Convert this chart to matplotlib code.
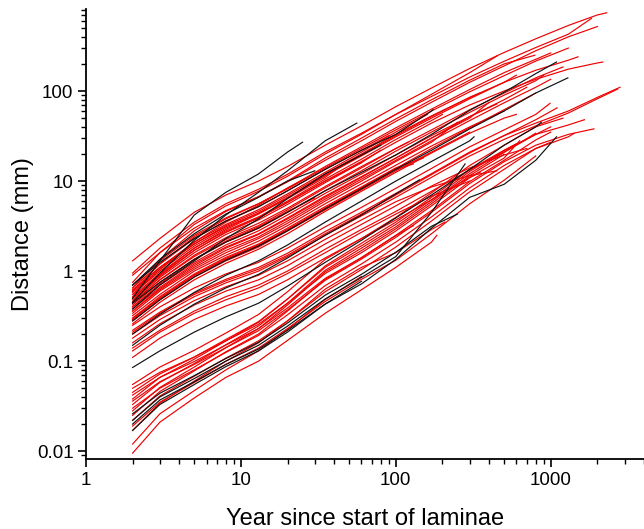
import matplotlib
matplotlib.use("Agg")
import matplotlib.pyplot as plt
from matplotlib.ticker import LogLocator, NullFormatter, FixedLocator, FixedFormatter

plt.rcParams['font.family'] = ['Liberation Sans', 'DejaVu Sans']

# common year grid; each series uses the grid points below its end year, then its end year
years_grid = [2, 3, 5, 8, 13, 20, 35, 60, 100, 170, 300, 500, 800, 1300, 2000]

red_end = [2300, 1830, 450, 790, 1000, 1500, 2170, 2000, 1300, 1200, 600, 900, 700, 400,
           1000, 250, 500, 150, 300, 27, 45, 80, 120, 160, 200, 350, 600, 60, 30, 90,
           800, 450, 130,
           990, 2800, 2700, 450, 700, 1000, 300, 630, 1100,
           184, 60, 207, 800, 1000, 1000, 500, 1420, 800, 1900, 600, 130, 1650, 350, 1200]
red_dist = [
    # upper group
    [1.3, 2.3, 4.5, 7.0, 10, 14.5, 25, 41, 67, 108, 178, 268, 380, 535, 700, 740],
    [0.95, 1.8, 3.5, 5.6, 8.1, 11.9, 21, 34, 55, 87, 143, 214, 304, 428, 640],
    [0.75, 1.6, 3.3, 5.3, 7.7, 11.3, 20, 33, 55, 92, 160, 245],
    [0.65, 1.35, 2.8, 4.6, 6.7, 10, 18, 30, 49, 80, 132, 200, 250],
    [0.6, 1.2, 2.4, 3.8, 5.6, 8.3, 14.5, 24, 39, 63, 104, 160, 225, 265],
    [0.55, 1.0, 1.9, 3.0, 4.4, 6.6, 11.5, 19.5, 32, 52, 85, 125, 170, 220, 240],
    [0.5, 0.9, 1.7, 2.7, 3.9, 5.8, 10, 16.5, 27, 44, 70, 100, 135, 175, 205, 210],
    [0.9, 1.6, 3.0, 4.7, 6.7, 9.8, 17, 28, 46, 75, 125, 190, 280, 400, 520],
    [0.7, 1.3, 2.5, 3.9, 5.6, 8.2, 14, 23, 37, 60, 98, 148, 215, 300],
    [0.45, 0.8, 1.45, 2.25, 3.2, 4.8, 8.4, 14, 23, 37, 62, 95, 140, 185],
    [0.62, 1.1, 2.0, 3.1, 4.4, 6.5, 11.5, 19, 31, 50, 82, 125, 150],
    [0.42, 0.75, 1.35, 2.1, 3.0, 4.5, 7.8, 13, 21.5, 35, 58, 90, 130, 150],
    [0.4, 0.7, 1.25, 1.95, 2.8, 4.2, 7.3, 12, 19.5, 32, 52, 80, 110],
    [0.38, 0.66, 1.2, 1.85, 2.6, 3.9, 6.8, 11.2, 18, 30, 50, 75],
    [0.36, 0.62, 1.1, 1.7, 2.4, 3.6, 6.3, 10.5, 17, 28, 47, 74, 110, 135],
    [0.34, 0.6, 1.05, 1.6, 2.3, 3.4, 6, 10, 16.5, 27, 45],
    [0.32, 0.55, 1.0, 1.5, 2.15, 3.2, 5.6, 9.3, 15, 24.5, 40, 60],
    [0.3, 0.52, 0.93, 1.42, 2.0, 3.0, 5.2, 8.6, 14, 18],
    [0.28, 0.48, 0.86, 1.3, 1.85, 2.8, 4.8, 8, 13, 21, 35],
    [0.55, 1.05, 2.1, 3.5, 5.4, 8.4, 11],
    [0.5, 0.92, 1.8, 2.9, 4.3, 6.4, 11, 15],
    [0.46, 0.85, 1.6, 2.55, 3.7, 5.5, 9.6, 16, 22],
    [0.44, 0.8, 1.5, 2.35, 3.4, 5.0, 8.7, 14.5, 23, 27],
    [0.6, 1.1, 2.1, 3.3, 4.8, 7.2, 12.5, 21, 35, 55],
    [0.52, 0.95, 1.8, 2.8, 4.0, 6.0, 10.5, 17.5, 29, 47, 55],
    [0.58, 1.05, 2.0, 3.2, 4.6, 6.9, 12, 20, 33, 53, 85, 95],
    [0.26, 0.45, 0.8, 1.22, 1.75, 2.6, 4.6, 7.7, 12.5, 20.5, 34, 50, 55],
    [0.48, 0.88, 1.7, 2.7, 3.9, 5.8, 10, 16],
    [0.4, 0.72, 1.35, 2.15, 3.1, 4.6, 6.5],
    [0.65, 1.2, 2.3, 3.6, 5.2, 7.8, 13.5, 22, 32],
    [0.3, 0.5, 0.9, 1.35, 1.9, 2.85, 5.0, 8.4, 13.8, 23, 39, 62, 95],
    [0.36, 0.64, 1.15, 1.8, 2.55, 3.8, 6.6, 11, 18, 30, 52, 72],
    [0.29, 0.5, 0.9, 1.38, 1.95, 2.9, 5, 8.3, 13.5, 15.5],
    # middle group
    [0.25, 0.4, 0.65, 0.93, 1.25, 1.8, 3.1, 5.1, 8.3, 13.8, 24, 37, 55, 73],
    [0.22, 0.35, 0.57, 0.81, 1.1, 1.58, 2.75, 4.5, 7.3, 12.1, 21, 32, 44, 60, 85, 110],
    [0.2, 0.32, 0.52, 0.74, 1.0, 1.45, 2.5, 4.1, 6.6, 11, 19, 29, 41, 57, 82, 105],
    [0.18, 0.29, 0.47, 0.67, 0.9, 1.3, 2.25, 3.7, 5.9, 8.6, 11.5, 13],
    [0.16, 0.26, 0.42, 0.6, 0.8, 1.15, 2.0, 3.3, 5.3, 8.8, 14, 19.5, 23],
    [0.14, 0.22, 0.36, 0.52, 0.7, 1.0, 1.75, 2.9, 4.6, 7.7, 13.3, 21, 33, 40],
    [0.13, 0.21, 0.34, 0.48, 0.65, 0.94, 1.6, 2.7, 4.3, 6.8, 10],
    [0.11, 0.18, 0.29, 0.41, 0.55, 0.8, 1.4, 2.3, 3.7, 6.2, 11, 18, 28],
    [0.21, 0.34, 0.55, 0.78, 1.05, 1.5, 2.6, 4.3, 7, 11.8, 20.5, 32, 48, 65],
    # lower group
    [0.0095, 0.021, 0.039, 0.066, 0.1, 0.17, 0.34, 0.62, 1.1, 2.1, 2.5],
    [0.012, 0.026, 0.047, 0.08, 0.13, 0.225, 0.485, 0.87],
    [0.017, 0.034, 0.06, 0.1, 0.16, 0.28, 0.63, 1.1, 1.6, 2.9, 3.5],
    [0.019, 0.035, 0.058, 0.092, 0.14, 0.23, 0.46, 0.81, 1.32, 2.6, 5.6, 10.2, 19],
    [0.022, 0.041, 0.068, 0.108, 0.168, 0.28, 0.59, 1.04, 1.85, 3.6, 7.6, 13.5, 23, 27],
    [0.025, 0.046, 0.078, 0.127, 0.2, 0.36, 0.81, 1.41, 2.5, 4.7, 9.9, 17, 28.6, 35],
    [0.028, 0.051, 0.086, 0.141, 0.23, 0.42, 0.98, 1.69, 2.95, 5.6, 11.5, 19.8],
    [0.03, 0.05, 0.08, 0.125, 0.193, 0.327, 0.69, 1.2, 2.1, 4.0, 8.4, 14.9, 23, 31, 34],
    [0.033, 0.058, 0.094, 0.152, 0.246, 0.44, 1.02, 1.8, 3.1, 5.9, 12.1, 20.8, 34],
    [0.036, 0.059, 0.092, 0.141, 0.218, 0.37, 0.79, 1.36, 2.37, 4.5, 9.4, 16.4, 25, 33, 38],
    [0.038, 0.066, 0.105, 0.168, 0.27, 0.49, 1.14, 2.04, 3.5, 6.6, 13.4, 22, 26],
    [0.042, 0.066, 0.099, 0.151, 0.23, 0.39, 0.83, 1.41, 2.48, 3.2],
    [0.045, 0.072, 0.111, 0.174, 0.275, 0.49, 1.1, 1.91, 3.3, 6.2, 12.8, 21.8, 33, 42, 48],
    [0.05, 0.075, 0.111, 0.168, 0.257, 0.44, 0.94, 1.6, 2.79, 5.3, 10.9, 12.5],
    [0.055, 0.086, 0.132, 0.205, 0.33, 0.59, 1.35, 2.3, 3.95, 7.4, 14.9, 25, 40, 50],
]

black_end = [25, 56, 1090, 174, 1290, 80, 30, 870, 320, 142, 1090, 280, 250, 60]
black_dist = [
    [0.5, 1.3, 4.2, 7.5, 12, 21, 27],
    [0.45, 0.95, 2.2, 4.2, 7.5, 13, 28, 44],
    [0.44, 0.75, 1.35, 2.1, 3.0, 4.5, 7.8, 12.5, 19.5, 33, 61, 97, 156, 210],
    [0.7, 1.25, 2.3, 3.6, 5.2, 7.8, 13.5, 22, 33, 60, 62],
    [0.28, 0.48, 0.86, 1.32, 1.9, 2.8, 4.9, 8.2, 13.5, 22, 38, 60, 95, 140],
    [0.38, 0.7, 1.3, 2.3, 3.8, 6.4, 12, 19.5, 25],
    [0.7, 1.35, 2.6, 4.3, 6.6, 10, 13],
    [0.085, 0.13, 0.21, 0.31, 0.44, 0.68, 1.25, 2.2, 3.9, 7, 13.5, 25, 40, 45],
    [0.2, 0.33, 0.58, 0.9, 1.3, 1.95, 3.5, 6, 10, 16.5, 28, 31],
    [0.15, 0.25, 0.43, 0.65, 0.92, 1.4, 2.5, 4.2, 7.2, 10.3],
    [0.02, 0.037, 0.059, 0.092, 0.136, 0.22, 0.43, 0.72, 1.35, 3.0, 6.6, 9.2, 17, 31],
    [0.022, 0.04, 0.064, 0.1, 0.15, 0.245, 0.49, 0.85, 1.45, 4.5, 15.5],
    [0.026, 0.044, 0.069, 0.107, 0.162, 0.265, 0.54, 0.92, 1.62, 3.15, 4.3],
    [0.017, 0.033, 0.055, 0.087, 0.13, 0.21, 0.43, 0.77],
]

x_ticks = [1, 10, 100, 1000]
x_labels = ["1", "10", "100", "1000"]
y_ticks = [0.01, 0.1, 1, 10, 100]
y_labels = ["0.01", "0.1", "1", "10", "100"]


def series_years(end):
    return [g for g in years_grid if g < end] + [end]


fig = plt.figure(figsize=(6.44, 5.29), dpi=100)
ax = fig.add_axes([0.1335, 0.132, 0.8665, 0.851])

for end, dist in zip(red_end, red_dist):
    yrs = series_years(end)
    n = min(len(yrs), len(dist))
    ax.plot(yrs[:n], dist[:n], color='#ee0000', lw=0.85)
for end, dist in zip(black_end, black_dist):
    yrs = series_years(end)
    n = min(len(yrs), len(dist))
    ax.plot(yrs[:n], dist[:n], color='#111111', lw=0.85)

ax.set_xscale('log')
ax.set_yscale('log')
ax.set_xlim(1, 4000)
ax.set_ylim(0.00815, 815)

ax.xaxis.set_major_locator(FixedLocator(x_ticks))
ax.xaxis.set_major_formatter(FixedFormatter(x_labels))
ax.yaxis.set_major_locator(FixedLocator(y_ticks))
ax.yaxis.set_major_formatter(FixedFormatter(y_labels))
ax.xaxis.set_minor_locator(LogLocator(base=10, subs=range(2, 10)))
ax.yaxis.set_minor_locator(LogLocator(base=10, subs=range(2, 10)))
ax.xaxis.set_minor_formatter(NullFormatter())
ax.yaxis.set_minor_formatter(NullFormatter())

for s in ['top', 'right']:
    ax.spines[s].set_visible(False)
for s in ['left', 'bottom']:
    ax.spines[s].set_linewidth(1.3)

ax.tick_params(which='major', direction='out', length=6, width=1.2, labelsize=13.5, pad=3)
ax.tick_params(which='minor', direction='out', length=3.3, width=1.0)

ax.set_xlabel('Year since start of laminae', fontsize=17, labelpad=14)
ax.set_ylabel('Distance (mm)', fontsize=17, labelpad=2)

fig.savefig('out.png', dpi=100)
